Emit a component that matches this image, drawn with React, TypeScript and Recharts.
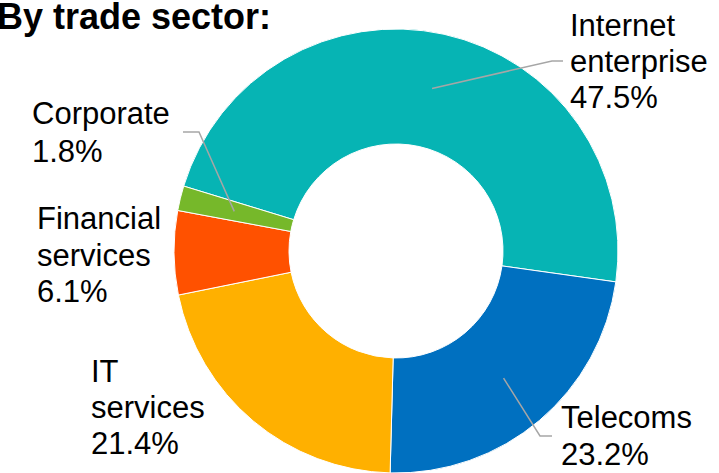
import { PieChart, Pie, Cell } from "recharts";

const sectors = ["Internet enterprise", "Telecoms", "IT services", "Financial services", "Corporate"];
const shares = [47.5, 23.2, 21.4, 6.1, 1.8];
const labelLines = [
  ["Internet", "enterprise"],
  ["Telecoms"],
  ["IT", "services"],
  ["Financial", "services"],
  ["Corporate"],
];
const colors = ["#06B4B4", "#0070C0", "#FFB000", "#FF5100", "#76B82A"];

const data = sectors.map((name, i) => ({ name, value: shares[i] }));

// hand placed label boxes, like the original slide
const labelPos = [
  { x: 570, y: 36, lh: 36, bend: [552, 61], end: [563, 61] },
  { x: 561, y: 428, lh: 37, bend: [540, 436], end: [552, 436] },
  { x: 91, y: 382, lh: 36 },
  { x: 37, y: 229, lh: 36.5 },
  { x: 32, y: 124, lh: 38, bend: [199, 132], end: [183, 132] },
];

const RAD = Math.PI / 180;
const FONT = "'Liberation Sans', Arial, sans-serif";

function renderLabel(props: any) {
  const { cx, cy, midAngle, innerRadius, outerRadius, index } = props;
  const pos = labelPos[index];
  const lines = [...labelLines[index], `${shares[index].toFixed(1)}%`];
  const r = (innerRadius + outerRadius) / 2 + 2;
  const sx = cx + r * Math.cos(-midAngle * RAD);
  const sy = cy + r * Math.sin(-midAngle * RAD);
  return (
    <g key={`lbl-${index}`}>
      {pos.bend && (
        <polyline
          points={`${sx},${sy} ${pos.bend[0]},${pos.bend[1]} ${pos.end[0]},${pos.end[1]}`}
          fill="none"
          stroke="#A6A6A6"
          strokeWidth={1.5}
        />
      )}
      {lines.map((t, j) => (
        <text key={j} x={pos.x} y={pos.y + j * pos.lh} fill="#000" fontSize={31} fontFamily={FONT} textAnchor="start">
          {t}
        </text>
      ))}
    </g>
  );
}

export default function App() {
  return (
    <div style={{ position: "absolute", left: 0, top: 0, width: 719, height: 473, background: "#fff", overflow: "hidden" }}>
      <div
        style={{
          position: "absolute",
          left: -3,
          top: -1.5,
          fontFamily: FONT,
          fontWeight: "bold",
          fontSize: 36,
          lineHeight: "36px",
          color: "#000",
          whiteSpace: "nowrap",
          zIndex: 2,
        }}
      >
        By trade sector:
      </div>
      <PieChart width={719} height={473} margin={{ top: 0, right: 0, bottom: 0, left: 0 }}>
        <Pie
          data={data}
          dataKey="value"
          nameKey="name"
          cx={396}
          cy={251}
          innerRadius={107}
          outerRadius={222}
          startAngle={163}
          endAngle={-197}
          stroke="#ffffff"
          strokeWidth={1}
          label={renderLabel}
          labelLine={false}
          isAnimationActive={false}
        >
          {data.map((d, i) => (
            <Cell key={d.name} fill={colors[i]} />
          ))}
        </Pie>
      </PieChart>
    </div>
  );
}
